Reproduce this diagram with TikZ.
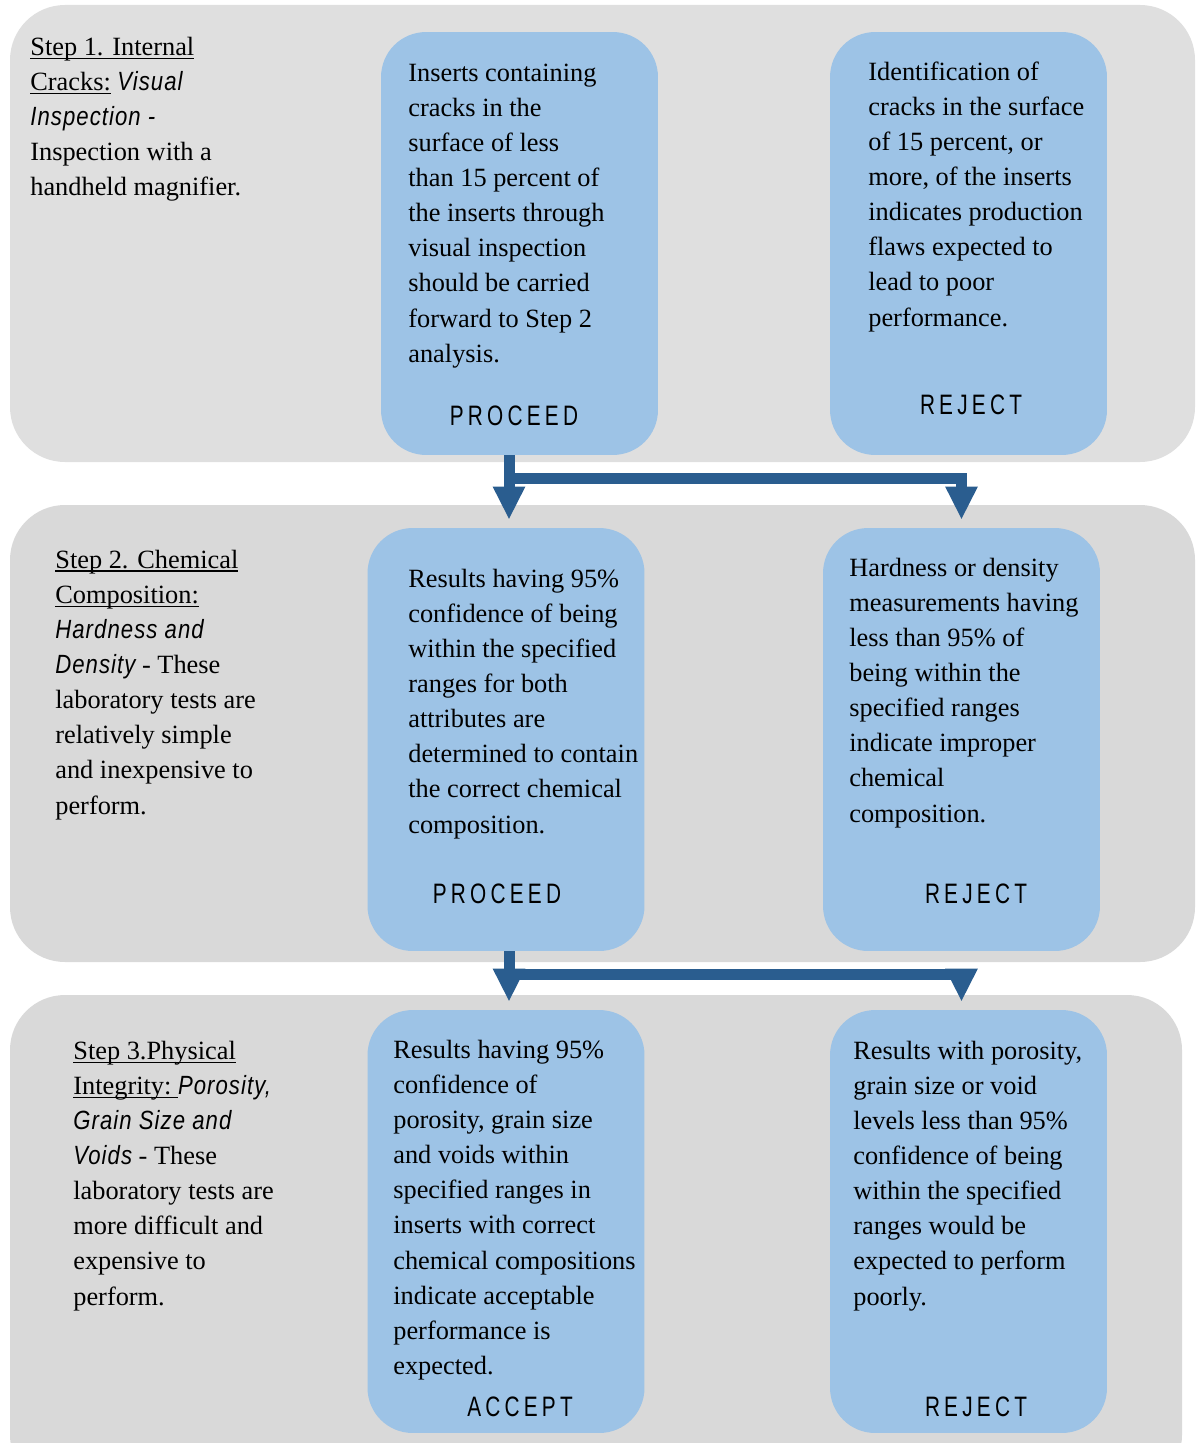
\documentclass[tikz,border=0pt]{standalone}
\usepackage{fontspec}
\setmainfont{Liberation Serif}
\newfontfamily\condsans[FakeStretch=0.84,LetterSpace=4]{Liberation Sans}
\newfontfamily\tagfont[FakeStretch=0.74,LetterSpace=15]{Liberation Sans}
\usetikzlibrary{arrows.meta}

\definecolor{panelA}{HTML}{DFDFDF}
\definecolor{panelB}{HTML}{D9D9D9}
\definecolor{boxblue}{HTML}{9DC3E6}
\definecolor{arrowblue}{HTML}{2A5D8F}

\newcommand{\itsans}[1]{{\condsans\itshape #1}}
\newsavebox\ulbox
\newcommand{\stepul}[1]{\sbox\ulbox{#1}\rlap{\rule[-2.2pt]{\wd\ulbox}{0.8pt}}\usebox\ulbox}

\tikzset{
  stepbox/.style={fill=boxblue, rounded corners=0.9cm, minimum width=5.54cm,
    minimum height=8.46cm, inner sep=0pt},
  boxtext/.style={font=\fontsize{15}{20}\selectfont, align=left, inner sep=0pt,
    anchor=base west},
  verdict/.style={font=\fontsize{16}{20}\tagfont, inner sep=0pt},
  flow/.style={draw=arrowblue, line width=0.22cm, line join=miter,
    -{Triangle[width=0.6cm,length=0.66cm]}, shorten >=0.16cm}
}

\begin{document}
\begin{tikzpicture}
  [x=0.02cm, y=-0.02cm]
  \useasboundingbox (0,0) rectangle (1196,1443);
  \clip (0,0) rectangle (1196,1443);

  % panels
  \fill[panelA, rounded corners=1.1cm] (10,5)   rectangle (1195,462);
  \fill[panelB, rounded corners=1.1cm] (10,505) rectangle (1195,962);
  \fill[panelB, rounded corners=1.1cm] (10,995) rectangle (1182,1490);

  \node[stepbox] (p1l) at (519.5,243.5) {};
  \node[stepbox] (p1r) at (968.5,243.5) {};
  \node[stepbox] (p2l) at (506,739.5)   {};
  \node[stepbox] (p2r) at (961.5,739.5) {};
  \node[stepbox] (p3l) at (506,1221.5)  {};
  \node[stepbox] (p3r) at (968.5,1221.5) {};

  % step 1 (texts sit on the baseline of their last line)
  \node[boxtext] (s1) at (30,195.6) {\stepul{Step 1. Internal}\\
    \stepul{Cracks:} \itsans{Visual}\\ \itsans{Inspection -}\\
    Inspection with a\\ handheld magnifier.};
  \node[boxtext] (t1l) at (408,362.2) {Inserts containing\\ cracks in the\\
    surface of less\\ than 15 percent of\\ the inserts through\\
    visual inspection\\ should be carried\\ forward to Step 2\\ analysis.};
  \node[boxtext] (t1r) at (868,326) {Identification of\\ cracks in the surface\\
    of 15 percent, or\\ more, of the inserts\\ indicates production\\
    flaws expected to\\ lead to poor\\ performance.};
  \node[verdict] (v1l) at (514,416) {PROCEED};
  \node[verdict] (v1r) at (971,405) {REJECT};

  % step 2
  \node[boxtext] (s2) at (55,814) {\stepul{Step 2. Chemical}\\
    \stepul{Composition:}\\ \itsans{Hardness and}\\ \itsans{Density} - These\\
    laboratory tests are\\ relatively simple\\ and inexpensive to\\ perform.};
  \node[boxtext] (t2l) at (408,833) {Results having 95\%\\ confidence of being\\
    within the specified\\ ranges for both\\ attributes are\\
    determined to contain\\ the correct chemical\\ composition.};
  \node[boxtext] (t2r) at (849,822) {Hardness or density\\ measurements having\\
    less than 95\% of\\ being within the\\ specified ranges\\
    indicate improper\\ chemical\\ composition.};
  \node[verdict] (v2l) at (497,894) {PROCEED};
  \node[verdict] (v2r) at (976,894) {REJECT};

  % step 3
  \node[boxtext] (s3) at (73,1305) {\stepul{Step 3.Physical}\\
    \stepul{Integrity:\ }\itsans{Porosity,}\\ \itsans{Grain Size and}\\
    \itsans{Voids} - These\\ laboratory tests are\\ more difficult and\\
    expensive to\\ perform.};
  \node[boxtext] (t3l) at (393,1374.4) {Results having 95\%\\ confidence of\\
    porosity, grain size\\ and voids within\\ specified ranges in\\
    inserts with correct\\ chemical compositions\\ indicate acceptable\\
    performance is\\ expected.};
  \node[boxtext] (t3r) at (853,1305) {Results with porosity,\\ grain size or void\\
    levels less than 95\%\\ confidence of being\\ within the specified\\
    ranges would be\\ expected to perform\\ poorly.};
  \node[verdict] (v3l) at (520,1407) {ACCEPT};
  \node[verdict] (v3r) at (976,1407) {REJECT};

  % arrows
  \coordinate (fork1) at (509,478);
  \coordinate (fork2) at (509,974);
  \draw[flow] (p1l.south -| fork1) -- (p2l.north -| fork1);
  \draw[flow] (fork1) -| (p2r.north);
  \draw[flow] (p2l.south -| fork2) -- (p3l.north -| fork2);
  \draw[flow] (fork2) -| (p3r.north -| p2r.north);

\end{tikzpicture}
\end{document}
